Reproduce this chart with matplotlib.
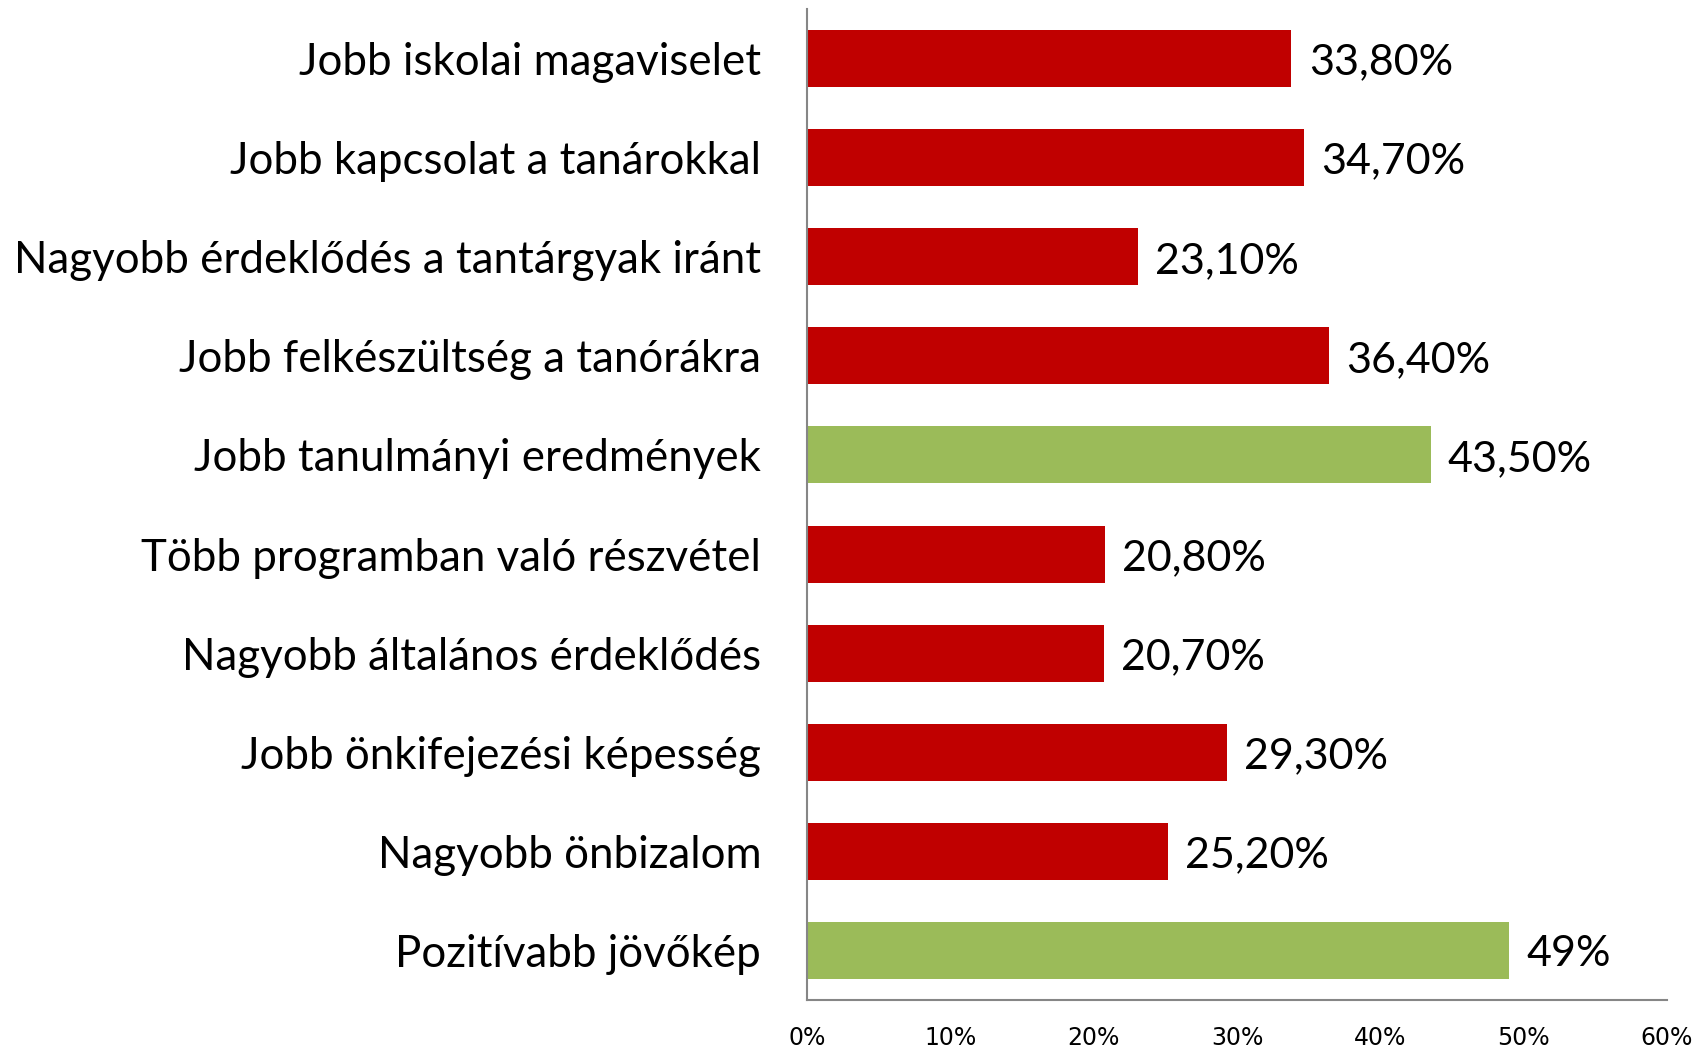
import matplotlib
matplotlib.use("Agg")
import matplotlib.pyplot as plt
from matplotlib.ticker import FuncFormatter

categories = [
    "Jobb iskolai magaviselet",
    "Jobb kapcsolat a tanárokkal",
    "Nagyobb érdeklődés a tantárgyak iránt",
    "Jobb felkészültség a tanórákra",
    "Jobb tanulmányi eredmények",
    "Több programban való részvétel",
    "Nagyobb általános érdeklődés",
    "Jobb önkifejezési képesség",
    "Nagyobb önbizalom",
    "Pozitívabb jövőkép",
]
values = [33.8, 34.7, 23.1, 36.4, 43.5, 20.8, 20.7, 29.3, 25.2, 49.0]
value_labels = ["33,80%", "34,70%", "23,10%", "36,40%", "43,50%",
                "20,80%", "20,70%", "29,30%", "25,20%", "49%"]
highlight = [False, False, False, False, True, False, False, False, False, True]

red = "#C00000"
green = "#9BBB59"
colors = [green if h else red for h in highlight]

fig = plt.figure(figsize=(17.05, 10.47), dpi=100)
ax = fig.add_axes([807 / 1705, 1 - 1000 / 1047, 860 / 1705, 991 / 1047])

y = list(range(len(categories)))
ax.barh(y, values, height=0.575, color=colors)
ax.set_ylim(len(categories) - 0.5, -0.5)
ax.set_xlim(0, 60)

for yi, v, lab in zip(y, values, value_labels):
    ax.text(v + 1.2, yi + 0.04, lab, va="center", ha="left",
            fontsize=31, family="Lato", color="black")

ax.set_yticks(y)
ax.set_yticklabels(categories, fontsize=31.6, family="Lato")
ax.tick_params(axis="y", length=0, pad=33)
ax.set_xticks(range(0, 61, 10))
ax.xaxis.set_major_formatter(FuncFormatter(lambda v, p: f"{int(v)}%"))
ax.tick_params(axis="x", length=0, pad=19, labelsize=17)
for t in ax.get_xticklabels():
    t.set_family(["Liberation Sans Narrow", "DejaVu Sans"])

for s in ["top", "right"]:
    ax.spines[s].set_visible(False)
for s in ["left", "bottom"]:
    ax.spines[s].set_color("#868686")
    ax.spines[s].set_linewidth(1.5)

fig.savefig("out.png", dpi=100)
